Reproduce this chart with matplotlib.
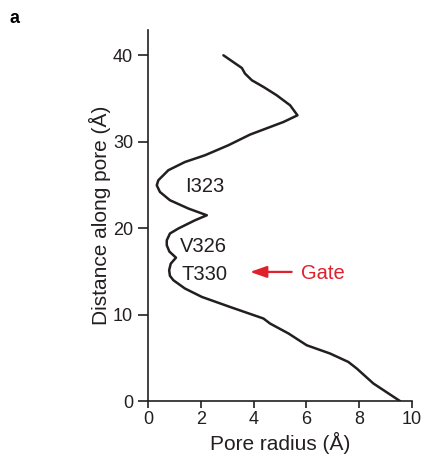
import matplotlib
matplotlib.use("Agg")
import matplotlib.pyplot as plt

radius = [2.85, 3.55, 3.67, 3.93, 4.37, 4.87, 5.38, 5.66, 5.13, 3.86, 3.04, 2.15, 1.39, 0.76,
          0.38, 0.32, 0.44, 0.82, 1.52, 2.22, 1.77, 1.14, 0.82, 0.70, 0.70, 0.80, 1.05, 0.85,
          0.79, 0.82, 0.95, 1.39, 2.03, 3.10, 4.37, 4.62, 5.32, 6.01, 6.90, 7.59, 7.91, 8.54, 9.56]
distance = [40.0, 38.53, 37.88, 37.11, 36.34, 35.38, 34.22, 33.06, 32.29, 30.83, 29.6, 28.44, 27.66, 26.71,
            25.55, 24.97, 24.2, 23.24, 22.28, 21.5, 20.92, 19.97, 19.39, 18.6, 18.03, 17.3, 16.6, 15.9,
            15.14, 14.5, 13.99, 13.03, 12.06, 10.9, 9.56, 8.98, 7.83, 6.47, 5.51, 4.54, 3.78, 2.05, 0.0]

residue_labels = ["I323", "V326", "T330"]
residue_x = [1.40, 1.20, 1.27]
residue_y = [25.1, 18.1, 14.85]

xticks = [0, 2, 4, 6, 8, 10]
yticks = [0, 10, 20, 30, 40]

plt.rcParams['font.family'] = ['Liberation Sans', 'DejaVu Sans']

ink = '#231f20'
red = '#e0202a'

fig = plt.figure(figsize=(4.25, 4.72), dpi=100)
ax = fig.add_axes([0.349, 0.150, 0.620, 0.786])
ax.plot(radius, distance, color=ink, lw=1.8, solid_joinstyle='round', solid_capstyle='round')

for lab, x, y in zip(residue_labels, residue_x, residue_y):
    ax.text(x, y, lab, fontsize=14.5, va='center_baseline', ha='left', color=ink)

ax.annotate('', xy=(3.86, 14.95), xytext=(5.44, 14.95),
            arrowprops=dict(arrowstyle='-|>,head_length=1.0,head_width=0.35', color=red, lw=1.6,
                            shrinkA=0, shrinkB=0))
ax.text(5.79, 14.95, 'Gate', color=red, fontsize=14.5, va='center_baseline', ha='left')

ax.set_xlim(0, 10)
ax.set_ylim(0, 42.9)
ax.set_xticks(xticks)
ax.set_yticks(yticks)
for s in ['top', 'right']:
    ax.spines[s].set_visible(False)
for s in ['left', 'bottom']:
    ax.spines[s].set_linewidth(1.2)
    ax.spines[s].set_color(ink)
ax.tick_params(axis='y', direction='out', length=7, width=1.2, labelsize=13, colors=ink, pad=4)
ax.tick_params(axis='x', direction='out', length=5, width=1.2, labelsize=13, colors=ink, pad=2)
ax.set_xlabel('Pore radius (Å)', fontsize=15, color=ink, labelpad=3)
ax.set_ylabel('Distance along pore (Å)', fontsize=15, color=ink, labelpad=1.5)

fig.text(0.022, 0.978, 'a', fontsize=13, fontweight='bold', va='top', ha='left')

fig.savefig('out.png', dpi=100)
